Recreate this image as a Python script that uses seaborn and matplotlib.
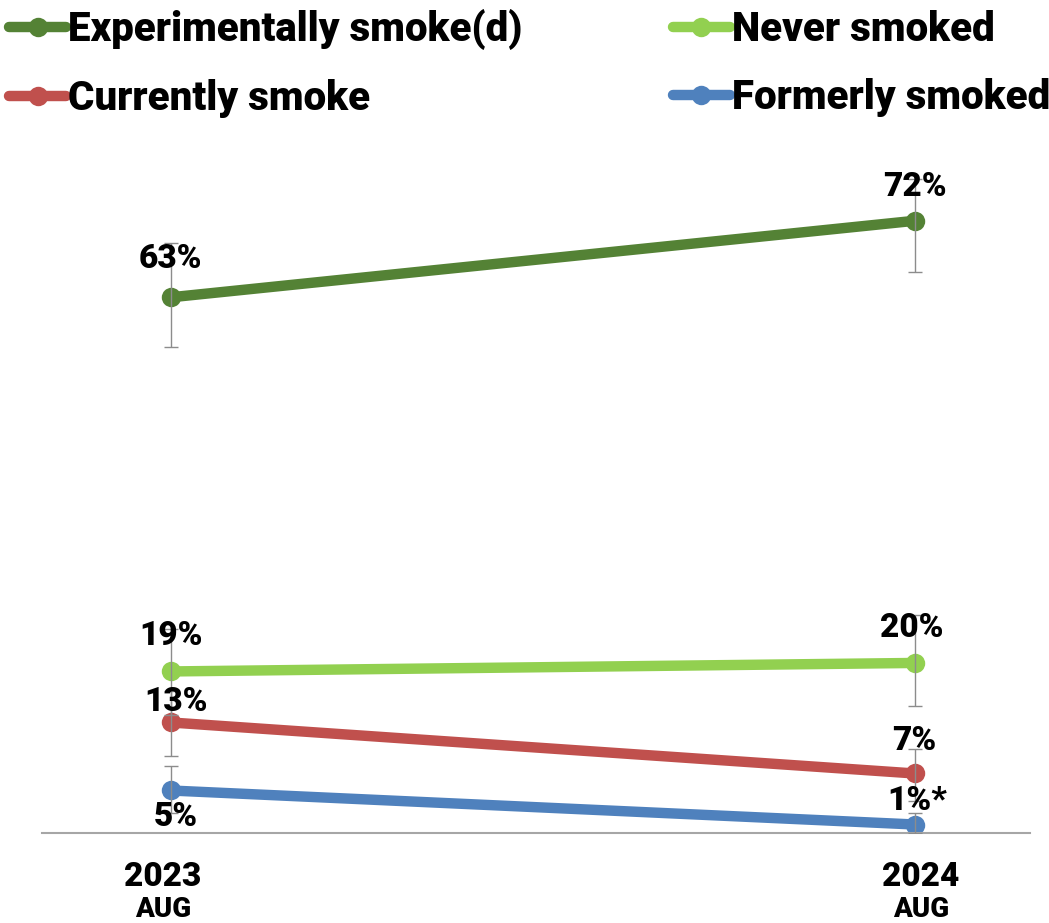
import pandas as pd
import numpy as np
import matplotlib.pyplot as plt
import matplotlib.transforms as mtransforms
import seaborn as sns

# ── Datos ────────────────────────────────────────────────────
periods = ["2023", "2024"]
months = ["AUG", "AUG"]
groups = ["Experimentally smoke(d)", "Currently smoke", "Never smoked", "Formerly smoked"]
exp_vals = [63, 72]
cur_vals = [13, 7]
nev_vals = [19, 20]
for_vals = [5, 1]
labels = {
    "Experimentally smoke(d)": ["63%", "72%"],
    "Currently smoke": ["13%", "7%"],
    "Never smoked": ["19%", "20%"],
    "Formerly smoked": ["5%", "1%*"],
}
# intervalos (inferior, superior)
exp_ci = [(57.1, 69.4), (66.0, 76.9)]
cur_ci = [(9.1, 16.7), (3.8, 9.9)]
nev_ci = [(13.9, 24.0), (14.9, 25.6)]
for_ci = [(2.4, 7.9), (0.0, 2.4)]

colors = ["#548235", "#C0504D", "#92D050", "#4F81BD"]

series = {
    "Experimentally smoke(d)": (exp_vals, exp_ci),
    "Currently smoke": (cur_vals, cur_ci),
    "Never smoked": (nev_vals, nev_ci),
    "Formerly smoked": (for_vals, for_ci),
}

rows = []
for g in groups:
    vals, ci = series[g]
    for i, p in enumerate(periods):
        rows.append({"group": g, "x": i, "period": p, "value": vals[i],
                     "lo": ci[i][0], "hi": ci[i][1]})
df = pd.DataFrame(rows)

# ── Estilo ───────────────────────────────────────────────────
sns.set_theme(style="white")
plt.rcParams["font.family"] = ["Roboto", "DejaVu Sans"]
plt.rcParams["text.color"] = "black"
plt.rcParams["xtick.color"] = "black"

fig = plt.figure(figsize=(10.49, 9.23), dpi=100)
ax = fig.add_axes([0.04, 0.0975, 0.942, 0.737])

sns.lineplot(data=df, x="x", y="value", hue="group", hue_order=groups,
             palette=colors, marker="o", markersize=14, markeredgewidth=0,
             linewidth=7.5, ax=ax, legend=True, zorder=2)

# barras de error
for g in groups:
    d = df[df["group"] == g]
    yerr = [d["value"] - d["lo"], d["hi"] - d["value"]]
    ax.errorbar(d["x"], d["value"], yerr=yerr, fmt="none", ecolor="#8C8C8C",
                elinewidth=1, capsize=5, capthick=1, zorder=3)

# etiquetas de datos (desplazamientos en píxeles)
offsets = {
    "Experimentally smoke(d)": [(0, 38), (0, 34)],
    "Currently smoke": [(5, 20), (-1, 32)],
    "Never smoked": [(0, 35), (-3, 35)],
    "Formerly smoked": [(5, -27), (2, 24)],
}
for g in groups:
    d = df[df["group"] == g]
    for i, (xv, yv) in enumerate(zip(d["x"], d["value"])):
        ax.annotate(labels[g][i], (xv, yv), xytext=offsets[g][i],
                    textcoords="offset pixels", ha="center", va="center",
                    fontsize=24, fontweight="black", color="black", zorder=5)

ax.set_xlim(-0.173, 1.155)
ax.set_ylim(0, 80)
ax.set_yticks([])
ax.set_xticks(range(len(periods)))
ax.set_xticklabels(periods, fontsize=24, fontweight="black")
ax.tick_params(axis="x", length=0, pad=20)
shifts = [-8, 6]
for lab, dx in zip(ax.get_xticklabels(), shifts):
    lab.set_transform(lab.get_transform() +
                      mtransforms.ScaledTranslation(dx / 100, 0, fig.dpi_scale_trans))
for i, m in enumerate(months):
    ax.annotate(m, (i, 0), xycoords=("data", "axes fraction"),
                xytext=(shifts[i], -76), textcoords="offset pixels",
                ha="center", va="center", fontsize=20, fontweight="black")
ax.set_xlabel("")
ax.set_ylabel("")
for s in ["top", "right", "left"]:
    ax.spines[s].set_visible(False)
ax.spines["bottom"].set_color("#A6A6A6")
ax.spines["bottom"].set_linewidth(1.5)

h, l = ax.get_legend_handles_labels()
ax.legend(h, l, loc="upper left", bbox_to_anchor=(-0.018, 1.021),
          bbox_transform=fig.transFigure, ncol=2, frameon=False,
          prop={"size": 29, "weight": "black"}, handlelength=1.4,
          handletextpad=0.05, labelspacing=0.72, columnspacing=3.75,
          borderaxespad=0.3)

plt.savefig("out.png", dpi=100)
